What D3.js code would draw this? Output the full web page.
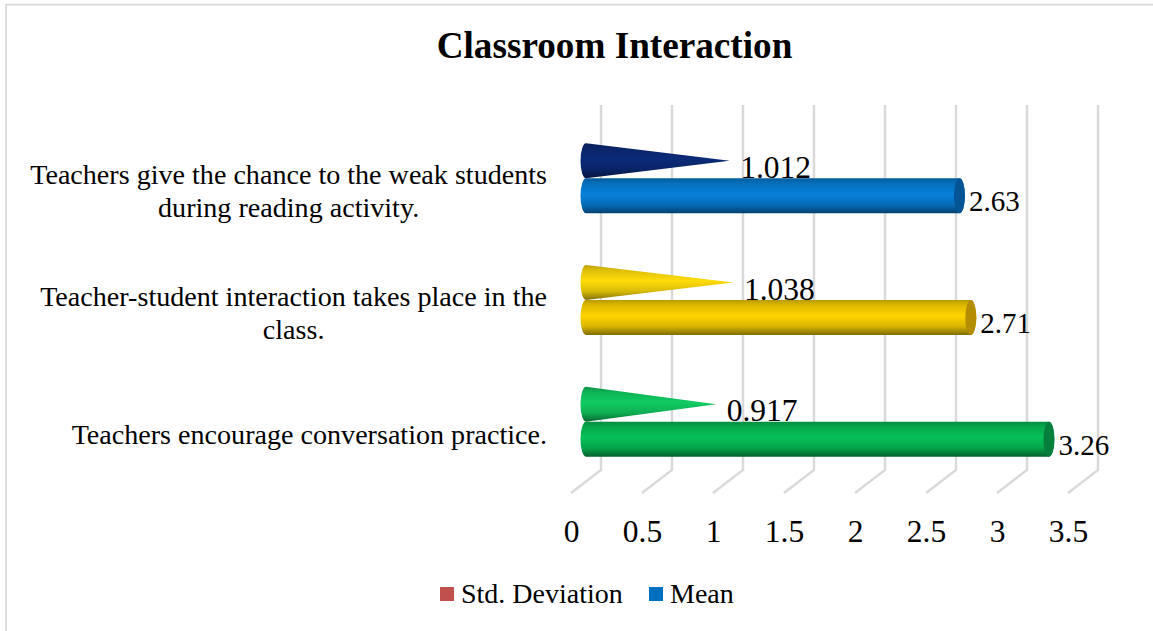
<!DOCTYPE html>
<html>
<head>
<meta charset="utf-8">
<script src="https://cdn.jsdelivr.net/npm/d3@7"></script>
<style>
  html, body { margin: 0; padding: 0; background: #fff; }
  svg { display: block; }
  text { font-family: "Liberation Serif", serif; fill: #000; }
</style>
</head>
<body>
<div id="chart"></div>
<script>
const categories = [
    ["Teachers give the chance to the weak students", "during reading activity."],
    ["Teacher-student interaction takes place in the", "class."],
    ["Teachers encourage conversation practice."]
];
const seriesNames = ["Std. Deviation", "Mean"];
const stdValues = [1.012, 1.038, 0.917];
const meanValues = [2.63, 2.71, 3.26];
const tickValues = [0, 0.5, 1, 1.5, 2, 2.5, 3, 3.5];
const legendColors = ["#c0504d", "#0070c0"];
// one colour per category (cone, cylinder, cylinder shade)
const coneColors = ["#0b2a78", "#ffdc0a", "#10cc62"];
const barColors = ["#0780d8", "#ffd400", "#07c158"];
const capColors = ["#045596", "#b58d00", "#067f3c"];

const width = 1153, height = 631;
const depth = 15; // half of the 3d floor offset in x
const svg = d3.select("#chart").append("svg")
    .attr("width", width)
    .attr("height", height);

// frame
svg.append("path")
    .attr("d", `M6,${height} V4.7 H${width}`)
    .attr("fill", "none")
    .attr("stroke", "#d9d9d9")
    .attr("stroke-width", 1.7);

svg.append("text")
    .attr("x", 614.5)
    .attr("y", 58)
    .attr("text-anchor", "middle")
    .style("font-size", "37.2px")
    .style("font-weight", "bold")
    .text("Classroom Interaction");

const x = d3.scaleLinear().domain([0, 3.5]).range([586, 1083]);
const y = d3.scaleBand().domain(d3.range(categories.length)).range([117.5, 482.5]);
const ySeries = d3.scaleBand().domain(seriesNames).range([-35, 35]);

const defs = svg.append("defs");
function addGradient(id, color) {
    const c = d3.color(color);
    const g = defs.append("linearGradient")
        .attr("id", id)
        .attr("x1", 0).attr("y1", 0).attr("x2", 0).attr("y2", 1);
    [[0, c.darker(0.9)], [0.15, c.darker(0.4)], [0.45, c], [0.75, c.darker(0.45)], [1, c.darker(1.9)]]
        .forEach(([o, col]) => g.append("stop").attr("offset", o).attr("stop-color", col));
}
coneColors.forEach((c, i) => addGradient(`cone${i}`, c));
barColors.forEach((c, i) => addGradient(`bar${i}`, c));

// gridlines: wall + floor
svg.append("g").selectAll("path")
    .data(tickValues)
    .enter().append("path")
    .attr("d", d => `M${x(d) + depth},105 V470 L${x(d) - depth},493`)
    .attr("fill", "none")
    .attr("stroke", "#d9d9d9")
    .attr("stroke-width", 2.5);

// tick labels
const xAxis = svg.append("g")
    .attr("transform", "translate(-15,520)")
    .call(d3.axisBottom(x).tickValues(tickValues).tickFormat(d3.format("")).tickSize(0));
xAxis.select(".domain").remove();
xAxis.selectAll("text")
    .attr("y", 0)
    .attr("dy", "0.71em")
    .style("font-size", "31.5px")
    .style("font-family", '"Liberation Serif", serif');

// category labels, centred on the widest line, right edge at 547
const labelGap = 33;
categories.forEach((lines, i) => {
    const g = svg.append("text")
        .style("font-size", "28.1px")
        .attr("text-anchor", "middle");
    const cy = y(i) + y.bandwidth() / 2 + 22;
    lines.forEach((line, j) => {
        g.append("tspan")
            .attr("y", cy + (j - (lines.length - 1) / 2) * labelGap)
            .text(line);
    });
    const w = d3.max(g.selectAll("tspan").nodes(), n => n.getComputedTextLength());
    g.selectAll("tspan").attr("x", 547 - w / 2);
});

const rx = 5.5;
const ry = ySeries.bandwidth() / 2;

// std labels go under the mean bars
svg.append("g").selectAll("text")
    .data(stdValues)
    .enter().append("text")
    .attr("x", d => x(d) + 10.5)
    .attr("y", (d, i) => y(i) + y.bandwidth() / 2 - 0.5)
    .style("font-size", "31.5px")
    .text(d => d3.format(".3f")(d));

// cones
svg.append("g").selectAll("path")
    .data(stdValues)
    .enter().append("path")
    .attr("d", (d, i) => {
        const c = y(i) + y.bandwidth() / 2 + ySeries(seriesNames[0]) + ry;
        return `M${x(d)},${c} L${x(0)},${c - ry} A${rx},${ry} 0 0 0 ${x(0)},${c + ry} Z`;
    })
    .attr("fill", (d, i) => `url(#cone${i})`);

// cylinders
const bars = svg.append("g").selectAll("g")
    .data(meanValues)
    .enter().append("g");
bars.append("path")
    .attr("d", (d, i) => {
        const c = y(i) + y.bandwidth() / 2 + ySeries(seriesNames[1]) + ry;
        return `M${x(0)},${c - ry} H${x(d)} A${rx},${ry} 0 0 1 ${x(d)},${c + ry} H${x(0)} A${rx},${ry} 0 0 1 ${x(0)},${c - ry} Z`;
    })
    .attr("fill", (d, i) => `url(#bar${i})`);
bars.append("ellipse")
    .attr("cx", d => x(d))
    .attr("cy", (d, i) => y(i) + y.bandwidth() / 2 + ySeries(seriesNames[1]) + ry)
    .attr("rx", rx)
    .attr("ry", ry)
    .attr("fill", (d, i) => capColors[i]);
bars.append("text")
    .attr("x", d => x(d) + 9.5)
    .attr("y", (d, i) => y(i) + y.bandwidth() / 2 + ySeries(seriesNames[1]) + ry + 15.5)
    .style("font-size", "29px")
    .text(d => d3.format(".2f")(d));

// legend
const legendX = [440, 649], legendTextX = [461, 670];
const legend = svg.append("g").selectAll("g")
    .data(seriesNames)
    .enter().append("g");
legend.append("rect")
    .attr("x", (d, i) => legendX[i])
    .attr("y", 587)
    .attr("width", 14)
    .attr("height", 14)
    .attr("fill", (d, i) => legendColors[i]);
legend.append("text")
    .attr("x", (d, i) => legendTextX[i])
    .attr("y", 603)
    .style("font-size", "28px")
    .text(d => d);
</script>
</body>
</html>
